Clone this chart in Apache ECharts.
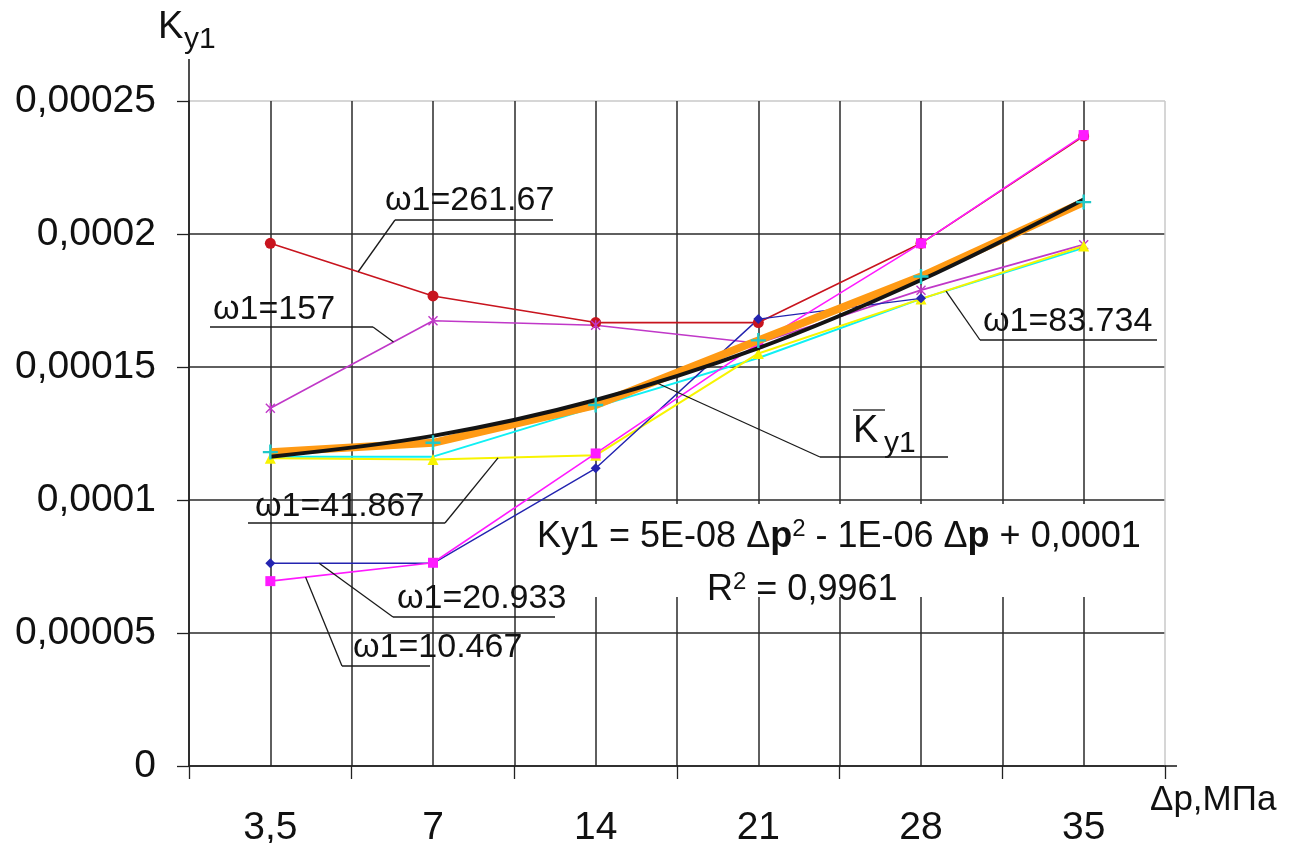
<!DOCTYPE html>
<html><head><meta charset="utf-8">
<script src="https://cdn.jsdelivr.net/npm/echarts@6/dist/echarts.min.js"></script>
<style>html,body{margin:0;padding:0;background:#fff}#c{width:1300px;height:843px}</style>
</head><body><div id="c"></div>
<script>
const categories = ['3,5', '7', '14', '21', '28', '35'];
const w261 = [0.0001965, 0.0001767, 0.0001667, 0.0001667, 0.0001965, 0.0002368];
const w157 = [0.0001345, 0.0001674, 0.0001657, 0.0001589, 0.0001789, 0.0001960];
const w83  = [0.0001163, 0.0001163, 0.0001350, 0.0001534, 0.0001756, 0.0001948];
const w41  = [0.0001157, 0.0001152, 0.0001168, 0.0001551, 0.0001756, 0.0001955];
const w20  = [0.0000762, 0.0000762, 0.0001119, 0.0001680, 0.0001758, null];
const w10  = [0.0000695, 0.0000764, 0.0001175, 0.0001589, 0.0001965, 0.0002372];
const avgK   = [0.0001180, 0.0001215, 0.0001357, 0.0001600, 0.0001840, 0.0002120];
const trendK = [0.0001163, 0.0001241, 0.0001376, 0.0001571, 0.0001827, 0.0002130];
const yTicks = [0, 0.00005, 0.0001, 0.00015, 0.0002, 0.00025];
const yTickLabels = ['0', '0,00005', '0,0001', '0,00015', '0,0002', '0,00025'];

(function () {
const FONT = '"Liberation Sans", Arial, sans-serif';
const PLUS = 'path://M4.2,0H5.8V4.2H10V5.8H5.8V10H4.2V5.8H0V4.2H4.2Z';
const STAR = 'path://M4.3,0H5.7V10H4.3Z M0,1L1,0L10,9L9,10Z M9,0L10,1L1,10L0,9Z';

const chart = echarts.init(document.getElementById('c'), null, {renderer: 'canvas'});

function lineSeries(name, data, color, width, symbol, size, z, extra) {
  return Object.assign({
    name, type: 'line', data, z,
    xAxisIndex: 0, yAxisIndex: 0,
    symbol, symbolSize: size, showSymbol: true,
    lineStyle: {color, width},
    itemStyle: {color, borderColor: color, borderWidth: 0},
    emphasis: {disabled: true},
    connectNulls: false
  }, extra || {});
}

const vGridColors = [];
for (let i = 0; i <= 12; i++) vGridColors.push(i === 12 ? '#c8c8c8' : '#2a2a2a');

chart.setOption({
  animation: false,
  backgroundColor: '#fff',
  grid: {left: 189, right: 135, top: 101, bottom: 77, outerBoundsMode: 'none', containLabel: false},
  xAxis: [
    {
      type: 'category', data: categories, boundaryGap: true, position: 'bottom',
      axisLine: {show: true, lineStyle: {color: '#222', width: 1.6}},
      axisTick: {show: true, length: 13, inside: false, lineStyle: {color: '#222', width: 1.3}},
      axisLabel: {interval: 0, margin: 43, fontSize: 39, color: '#111', fontFamily: FONT},
      splitLine: {show: false}
    },
    {
      type: 'value', min: 0, max: 12, interval: 1, position: 'bottom',
      axisLine: {show: false}, axisTick: {show: false}, axisLabel: {show: false},
      splitLine: {show: true, lineStyle: {color: vGridColors, width: 1.5}}
    }
  ],
  yAxis: {
    type: 'value', min: 0, max: 0.00025, interval: 0.00005,
    axisLine: {show: true, lineStyle: {color: '#222', width: 1.6}},
    axisTick: {show: true, length: 12, lineStyle: {color: '#222', width: 1.3}},
    axisLabel: {
      margin: 33, fontSize: 39, color: '#111', fontFamily: FONT,
      formatter: function (v) {
        let best = 0;
        for (let i = 1; i < yTicks.length; i++) if (Math.abs(yTicks[i] - v) < Math.abs(yTicks[best] - v)) best = i;
        return yTickLabels[best];
      }
    },
    splitLine: {show: true, lineStyle: {color: ['#2a2a2a', '#2a2a2a', '#2a2a2a', '#2a2a2a', '#2a2a2a', '#c8c8c8'], width: 1.5}}
  },
  series: [
    lineSeries('ω1=261.67', w261, '#c8141e', 1.6, 'circle', 11, 3),
    lineSeries('ω1=157', w157, '#c038c8', 1.6, STAR, 10, 3),
    lineSeries('ω1=83.734', w83, '#10f0f4', 2, 'none', 1, 3),
    lineSeries('ω1=41.867', w41, '#f8f400', 2, 'triangle', 11, 3),
    lineSeries('ω1=20.933', w20, '#2424b0', 1.4, 'diamond', 10, 3),
    lineSeries('ω1=10.467', w10, '#ff1aff', 1.6, 'rect', 10, 3),
    lineSeries('Ky1 avg', avgK, '#ff9a14', 8, 'none', 1, 4),
    lineSeries('Ky1 trend', trendK, '#141414', 4, 'none', 1, 5, {smooth: 0.35}),
    lineSeries('Ky1 avg points', avgK, '#20c8c8', 0, PLUS, 15, 6, {lineStyle: {width: 0, opacity: 0}})
  ]
});

function along(sIdx, data, i, t) {
  const a = chart.convertToPixel({seriesIndex: sIdx}, [i, data[i]]);
  const b = chart.convertToPixel({seriesIndex: sIdx}, [i + 1, data[i + 1]]);
  return [a[0] + (b[0] - a[0]) * t, a[1] + (b[1] - a[1]) * t];
}
const LINE = {stroke: '#1a1a1a', lineWidth: 1.3};
const g = [];
function txt(text, x, y, size, extra) {
  g.push({type: 'text', z: 20, style: Object.assign({text, x, y, fill: '#111', font: size + 'px ' + FONT, align: 'left', verticalAlign: 'middle'}, extra || {})});
}
function seg(x1, y1, x2, y2) {
  g.push({type: 'line', z: 20, shape: {x1, y1, x2, y2}, style: LINE});
}
const labels = [
  {text: 'ω1=261.67', tx: 385, ty: 201, u1: 395, u2: 553, uy: 220, from: 'l', s: 0, d: w261, i: 0, t: 0.54},
  {text: 'ω1=157',    tx: 213, ty: 310, u1: 210, u2: 373, uy: 327, from: 'r', s: 1, d: w157, i: 0, t: 0.757},
  {text: 'ω1=83.734', tx: 983, ty: 322, u1: 980, u2: 1157, uy: 340, from: 'l', s: 2, d: w83, i: 4, t: 0.154},
  {text: 'ω1=41.867', tx: 255, ty: 507, u1: 248, u2: 445, uy: 523, from: 'r', s: 3, d: w41, i: 1, t: 0.40},
  {text: 'ω1=20.933', tx: 397, ty: 599, u1: 393, u2: 555, uy: 617, from: 'l', s: 4, d: w20, i: 0, t: 0.30},
  {text: 'ω1=10.467', tx: 353, ty: 648, u1: 342, u2: 430, uy: 666, from: 'l', s: 5, d: w10, i: 0, t: 0.217}
];
labels.forEach(function (L) {
  txt(L.text, L.tx, L.ty, 34);
  seg(L.u1, L.uy, L.u2, L.uy);
  const p = along(L.s, L.d, L.i, L.t);
  const sx = L.from === 'l' ? L.u1 : L.u2;
  seg(sx, L.uy, p[0], p[1]);
});

txt('K', 853, 432, 38);
seg(853, 410, 885, 410);
txt('y1', 884, 444, 30);
seg(820, 457, 948, 457);
const pk = along(6, avgK, 2, 0.36);
seg(820, 457, pk[0], pk[1]);

const RICH = {
  n: {fontSize: 36, fontFamily: FONT, fill: '#111', lineHeight: 40, verticalAlign: 'middle'},
  b: {fontSize: 36, fontFamily: FONT, fontWeight: 'bold', fill: '#111', lineHeight: 40, verticalAlign: 'middle'},
  s: {fontSize: 24, fontFamily: FONT, fill: '#111', lineHeight: 24, verticalAlign: 'top'}
};
g.push({type: 'rect', z: 1, shape: {x: 527, y: 504, width: 636, height: 93}, style: {fill: '#fff'}});
g.push({type: 'text', z: 20, style: {
  text: '{n|Ky1 = 5E-08 Δ}{b|p}{s|2}{n| - 1E-06 Δ}{b|p}{n| + 0,0001}',
  x: 537, y: 537, align: 'left', verticalAlign: 'middle', fill: '#111', font: '36px ' + FONT, rich: RICH
}});
g.push({type: 'text', z: 20, style: {
  text: '{n|R}{s|2}{n| = 0,9961}',
  x: 707, y: 590, align: 'left', verticalAlign: 'middle', fill: '#111', font: '36px ' + FONT, rich: RICH
}});

txt('K', 158, 28, 38);
txt('y1', 184, 40, 30);
txt('Δp,МПа', 1150, 800, 35);

const yTop = chart.convertToPixel({yAxisIndex: 0}, 0.00025);
const yBot = chart.convertToPixel({yAxisIndex: 0}, 0);
const xLeft = chart.convertToPixel({xAxisIndex: 1}, 0);
const xRight = chart.convertToPixel({xAxisIndex: 1}, 12);
g.push({type: 'line', z: 20, shape: {x1: xLeft, y1: yTop, x2: xLeft, y2: 59}, style: {stroke: '#222', lineWidth: 1.6}});
g.push({type: 'line', z: 20, shape: {x1: xRight, y1: yBot, x2: xRight + 12, y2: yBot}, style: {stroke: '#222', lineWidth: 1.6}});

chart.setOption({graphic: {elements: g}});
})();
</script></body></html>
